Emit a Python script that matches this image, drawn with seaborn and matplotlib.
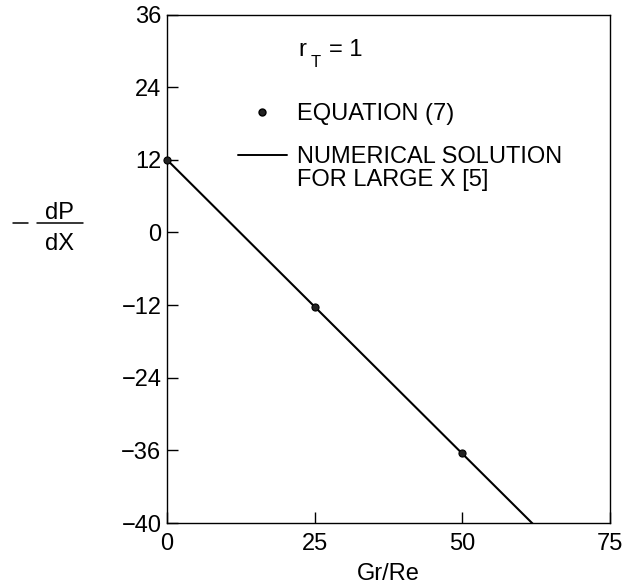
import matplotlib
matplotlib.use("Agg")
import matplotlib.pyplot as plt
from matplotlib.lines import Line2D
import seaborn as sns
import pandas as pd

# Equation (7) evaluated at three Gr/Re values
eq_gr_re = [0, 25, 50]
eq_dpdx = [12, -12.3, -36.5]

# Numerical solution for large X (straight line through the same values)
num_gr_re = [0, 62]
num_dpdx = [12, -48.2]

x_ticks = [0, 25, 50, 75]
x_tick_labels = ["0", "25", "50", "75"]
y_ticks = [36, 24, 12, 0, -12, -24, -36, -48]
y_tick_labels = ["36", "24", "12", "0", "\u221212", "\u221224", "\u221236", "\u221240"]

eq_df = pd.DataFrame({"Gr/Re": eq_gr_re, "dPdX": eq_dpdx})
num_df = pd.DataFrame({"Gr/Re": num_gr_re, "dPdX": num_dpdx})

sns.set_theme(style="white")
plt.rcParams["font.family"] = ["Liberation Sans", "DejaVu Sans"]
plt.rcParams["text.color"] = "black"
plt.rcParams["axes.labelcolor"] = "black"
plt.rcParams["xtick.color"] = "black"
plt.rcParams["ytick.color"] = "black"

FS = 17
W, H = 631, 585

fig = plt.figure(figsize=(W / 100, H / 100), dpi=100)
ax = fig.add_axes([167 / W, 1 - 523 / H, 443 / W, 508.5 / H])

sns.lineplot(data=num_df, x="Gr/Re", y="dPdX", ax=ax, color="black",
             linewidth=1.5, zorder=2)
sns.scatterplot(data=eq_df, x="Gr/Re", y="dPdX", ax=ax, color="#222222",
                edgecolor="black", linewidth=0.8, s=26, zorder=3, clip_on=False)

ax.set_xlim(0, 75)
ax.set_ylim(-48, 36)
ax.set_xticks(x_ticks)
ax.set_xticklabels(x_tick_labels)
ax.set_yticks(y_ticks)
ax.set_yticklabels(y_tick_labels)

for side in ["left", "right", "top", "bottom"]:
    ax.spines[side].set_visible(True)
    ax.spines[side].set_color("black")
    ax.spines[side].set_linewidth(1.0)

ax.tick_params(axis="both", which="major", direction="in", length=8,
               width=1.0, colors="black", labelcolor="black", labelsize=FS,
               top=False, right=False, bottom=True, left=True)
ax.tick_params(axis="y", pad=4)
ax.tick_params(axis="x", pad=7)

ax.set_xlabel("Gr/Re", fontsize=FS, color="black", labelpad=6)
ax.set_ylabel("")

# Parameter note: r with subscript T, then "= 1"
def ax_x(px):
    return (px - 167) / 443


def ax_y(py):
    return (523 - py) / 508.5


ax.text(ax_x(298), ax_y(56), "r", transform=ax.transAxes, va="baseline",
        ha="left", fontsize=FS, color="black")
ax.text(ax_x(311), ax_y(67), "T", transform=ax.transAxes, va="baseline",
        ha="left", fontsize=12, color="black")
ax.text(ax_x(329), ax_y(56), "= 1", transform=ax.transAxes, va="baseline",
        ha="left", fontsize=FS, color="black")

# Key for the two curves
hl = 49 / (FS * 100 / 72)
tp = 10 / (FS * 100 / 72)
leg1 = ax.legend(
    handles=[Line2D([], [], ls="none", marker="o", ms=5, color="#222222",
                    markeredgecolor="black")],
    labels=["EQUATION (7)"], loc="upper left", bbox_to_anchor=(0.1596, 0.826),
    frameon=False, borderpad=0, borderaxespad=0, handlelength=hl,
    handletextpad=tp, fontsize=FS, labelcolor="black")
ax.add_artist(leg1)
ax.legend(
    handles=[Line2D([], [], color="black", lw=1.4), Line2D([], [], ls="none")],
    labels=["NUMERICAL SOLUTION", "FOR LARGE X [5]"], loc="upper left",
    bbox_to_anchor=(0.1596, 0.741), frameon=False, borderpad=0,
    borderaxespad=0, handlelength=hl, handletextpad=tp, labelspacing=0.05,
    fontsize=FS, labelcolor="black")

# Y-axis label written as  -dP/dX
def fx(px):
    return px / W


def fy(py):
    return 1 - py / H


fig.text(fx(59.5), fy(219), "dP", ha="center", va="baseline", fontsize=FS,
         color="black")
fig.text(fx(60), fy(250), "dX", ha="center", va="baseline", fontsize=FS,
         color="black")
fig.add_artist(Line2D([fx(13), fx(28)], [fy(223), fy(223)], color="black", lw=1.1))
fig.add_artist(Line2D([fx(37), fx(83)], [fy(223), fy(223)], color="black", lw=1.1))

fig.savefig("out.png", dpi=100, facecolor="white")
